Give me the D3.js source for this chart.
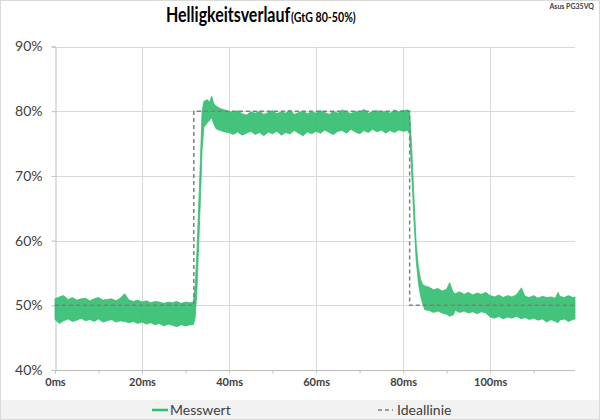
<!DOCTYPE html>
<html><head><meta charset="utf-8">
<script src="https://cdnjs.cloudflare.com/ajax/libs/d3/7.8.5/d3.min.js"></script>
<style>
html,body{margin:0;padding:0;background:#fff;}
svg{display:block;font-family:Lato,"Open Sans",sans-serif;}
</style></head>
<body><svg id="c" width="600" height="420"></svg>
<script>
// ---- data ----
const yTicks = [40, 50, 60, 70, 80, 90];
const xTicks = [0, 20, 40, 60, 80, 100];
const seriesNames = ["Messwert", "Ideallinie"];

// measured trace, read as upper/lower envelope of the noisy signal (% brightness)
const msTime = [
  0,1,2,3,4,5,6,7,8,9,10,11,12,13,14,15,16,17,18,19,20,21,22,23,24,25,26,27,28,29,30,31,
  31.8,32.2,32.6,33,33.4,33.8,34.2,35,35.5,36,36.5,37,38,39,40,
  41,42,43,44,45,46,47,48,49,50,51,52,53,54,55,56,57,58,59,60,61,62,63,64,65,66,67,68,69,70,71,72,73,74,75,76,77,78,79,80,81,
  81.5,82,82.5,83,83.5,84,84.5,85,
  86,87,88,89,90,90.7,91.5,92,93,94,95,96,97,98,99,100,101,102,103,104,105,106,107.2,108,109,110,111,112,113,114,115,115.6,116,117,118,119,119.5
];
const msUpper = [
  51.0,51.3,51.5,50.9,51.2,50.8,51.0,51.1,50.7,51.0,51.2,50.8,50.9,51.0,50.7,51.1,51.8,50.8,50.6,50.8,50.5,50.7,50.4,50.6,50.5,50.3,50.5,50.4,50.6,50.3,50.5,50.4,
  50.5,53.0,58.0,65.0,72.0,80.0,81.5,81.8,81.4,82.3,81.2,80.8,80.4,80.2,80.0,
  79.8,80.1,79.6,79.4,79.9,79.7,80.0,79.5,79.8,80.1,79.6,79.9,79.7,80.2,79.5,79.8,80.0,79.6,79.9,79.7,80.1,79.8,79.5,80.0,79.7,80.2,79.9,79.6,80.0,79.8,80.3,79.7,79.9,80.1,79.8,80.0,79.7,80.2,79.9,80.1,80.2,
  80.0,74.0,66.5,59.5,56.0,54.0,53.2,53.0,
  52.8,52.4,52.6,52.2,52.5,53.5,52.0,51.8,52.1,51.7,52.0,51.6,51.9,51.7,52.0,51.5,51.3,51.6,51.2,51.5,51.3,51.6,52.7,51.4,51.2,51.5,51.1,51.4,51.2,51.3,51.1,52.0,51.4,51.2,51.5,51.2,51.3
];
const msLower = [
  47.8,47.2,47.6,47.9,47.5,47.7,48.0,47.6,47.8,47.5,47.9,47.4,47.6,47.8,47.4,47.6,47.5,47.3,47.5,47.2,47.4,47.1,47.3,47.0,47.2,46.8,47.1,46.9,46.7,47.0,46.8,47.0,
  47.0,48.0,52.0,59.0,66.0,74.0,77.5,78.2,78.6,79.0,78.0,77.3,77.0,76.8,76.7,
  76.4,76.8,76.3,76.6,76.9,76.4,76.7,76.2,76.8,76.5,76.9,76.3,76.7,76.5,77.0,76.6,76.2,76.8,76.5,76.9,76.6,77.1,76.7,76.4,76.9,77.0,76.6,77.2,76.8,76.5,77.0,76.7,77.2,76.8,77.1,76.6,77.0,76.7,77.1,76.9,77.0,
  76.5,70.0,63.0,57.0,53.5,51.5,50.2,49.3,
  49.2,48.9,49.1,48.8,48.6,48.3,48.5,49.2,48.9,49.1,48.8,49.0,48.7,49.0,48.8,48.2,48.0,48.3,47.9,48.2,48.0,48.3,47.9,48.1,47.8,48.0,47.7,47.9,47.4,47.8,47.5,47.3,47.7,47.9,47.5,47.8,47.9
];

// ideal step response
const idealTime  = [0, 31.9, 31.9, 81.5, 81.5, 119.5];
const idealValue = [50, 50, 80, 80, 50, 50];

// ---- drawing ----
const svg = d3.select("#c");
const W = 600, H = 420;
const x = d3.scaleLinear().domain([0, 119.5]).range([55, 575]);
const y = d3.scaleLinear().domain([40, 90]).range([370, 46.5]);

svg.append("rect").attr("x",0.5).attr("y",0.5).attr("width",W-1).attr("height",H-1)
  .attr("fill","#fff").attr("stroke","#d9d9d9");

// legend band
svg.append("rect").attr("x",1).attr("y",400).attr("width",W-2).attr("height",19).attr("fill","#f2f2f2");

// title (horizontally condensed to mimic the narrow original face)
svg.append("g").attr("transform","translate(166,22) scale(0.8,1)")
  .append("text").attr("x",0).attr("y",0).attr("fill","#000")
  .attr("font-weight","bold").attr("font-size",20).text("Helligkeitsverlauf");
svg.append("g").attr("transform","translate(291,22) scale(0.76,1)")
  .append("text").attr("x",0).attr("y",0).attr("fill","#000")
  .attr("font-weight","bold").attr("font-size",14).text("(GtG 80-50%)");

svg.append("text").attr("x",594).attr("y",9).attr("text-anchor","end")
  .attr("font-size",7).attr("font-weight","bold").attr("fill","#404040").text("Asus PG35VQ");

// grid
const g = svg.append("g");
g.selectAll(".hg").data(yTicks.filter(d=>d>40)).join("line")
  .attr("x1",x(0)).attr("x2",x(119.5)).attr("y1",d=>Math.round(y(d))+0.5).attr("y2",d=>Math.round(y(d))+0.5)
  .attr("stroke","#d9d9d9");
g.selectAll(".vg").data(xTicks.filter(d=>d>0)).join("line")
  .attr("x1",d=>Math.round(x(d))+0.5).attr("x2",d=>Math.round(x(d))+0.5).attr("y1",y(90)).attr("y2",y(40))
  .attr("stroke","#d9d9d9");

// y axis
const yAxis = d3.axisLeft(y).tickValues(yTicks).tickSize(4).tickFormat(d=>d+"%");
const ya = svg.append("g").attr("transform",`translate(${Math.round(x(0))+0.5},0)`).call(yAxis);
ya.select(".domain").attr("stroke","#bfbfbf");
ya.selectAll(".tick line").attr("stroke","#bfbfbf");
ya.selectAll(".tick text").attr("font-size",14).attr("fill","#404040").attr("x",-13)
  .style("font-family","Lato,'Open Sans',sans-serif");

// x axis
const xAxis = d3.axisBottom(x).tickValues(d3.range(0,120,10)).tickSize(3)
  .tickFormat(d=> xTicks.includes(d) ? d+"ms" : "");
const xa = svg.append("g").attr("transform",`translate(0,${Math.round(y(40))+0.5})`).call(xAxis);
xa.select(".domain").attr("stroke","#bfbfbf").attr("d",`M${x(0)},0H${x(119.5)}`);
xa.selectAll(".tick line").attr("stroke","#bfbfbf");
xa.selectAll(".tick text").attr("font-size",11).attr("font-weight","bold").attr("fill","#404040").attr("y",8)
  .style("font-family","Lato,'Open Sans',sans-serif");

// measured band
const pts = msTime.map((t,i)=>({t, hi: msUpper[i], lo: msLower[i]}));
const area = d3.area().x(d=>x(d.t)).y0(d=>y(d.lo)).y1(d=>y(d.hi));
svg.append("path").datum(pts).attr("d",area)
  .attr("fill","#2fbd6e").attr("fill-opacity",0.9)
  .attr("stroke","#2fbd6e").attr("stroke-opacity",0.9).attr("stroke-width",0.8);

// ideal line
const ideal = idealTime.map((t,i)=>({t, v: idealValue[i]}));
svg.append("path").datum(ideal)
  .attr("d", d3.line().x(d=>x(d.t)).y(d=>y(d.v)))
  .attr("fill","none").attr("stroke","#7f7f7f").attr("stroke-width",1.5).attr("stroke-dasharray","4,3");

// legend
const lg = svg.append("g");
lg.append("line").attr("x1",152).attr("x2",168).attr("y1",410).attr("y2",410)
  .attr("stroke","#2fbd6e").attr("stroke-width",2.5);
lg.append("text").attr("x",170).attr("y",415).attr("font-size",14).attr("fill","#404040").text(seriesNames[0]);
lg.append("line").attr("x1",378).attr("x2",393).attr("y1",410).attr("y2",410)
  .attr("stroke","#7f7f7f").attr("stroke-width",1.5).attr("stroke-dasharray","4,3");
lg.append("text").attr("x",397).attr("y",415).attr("font-size",14).attr("fill","#404040").text(seriesNames[1]);
</script></body></html>
